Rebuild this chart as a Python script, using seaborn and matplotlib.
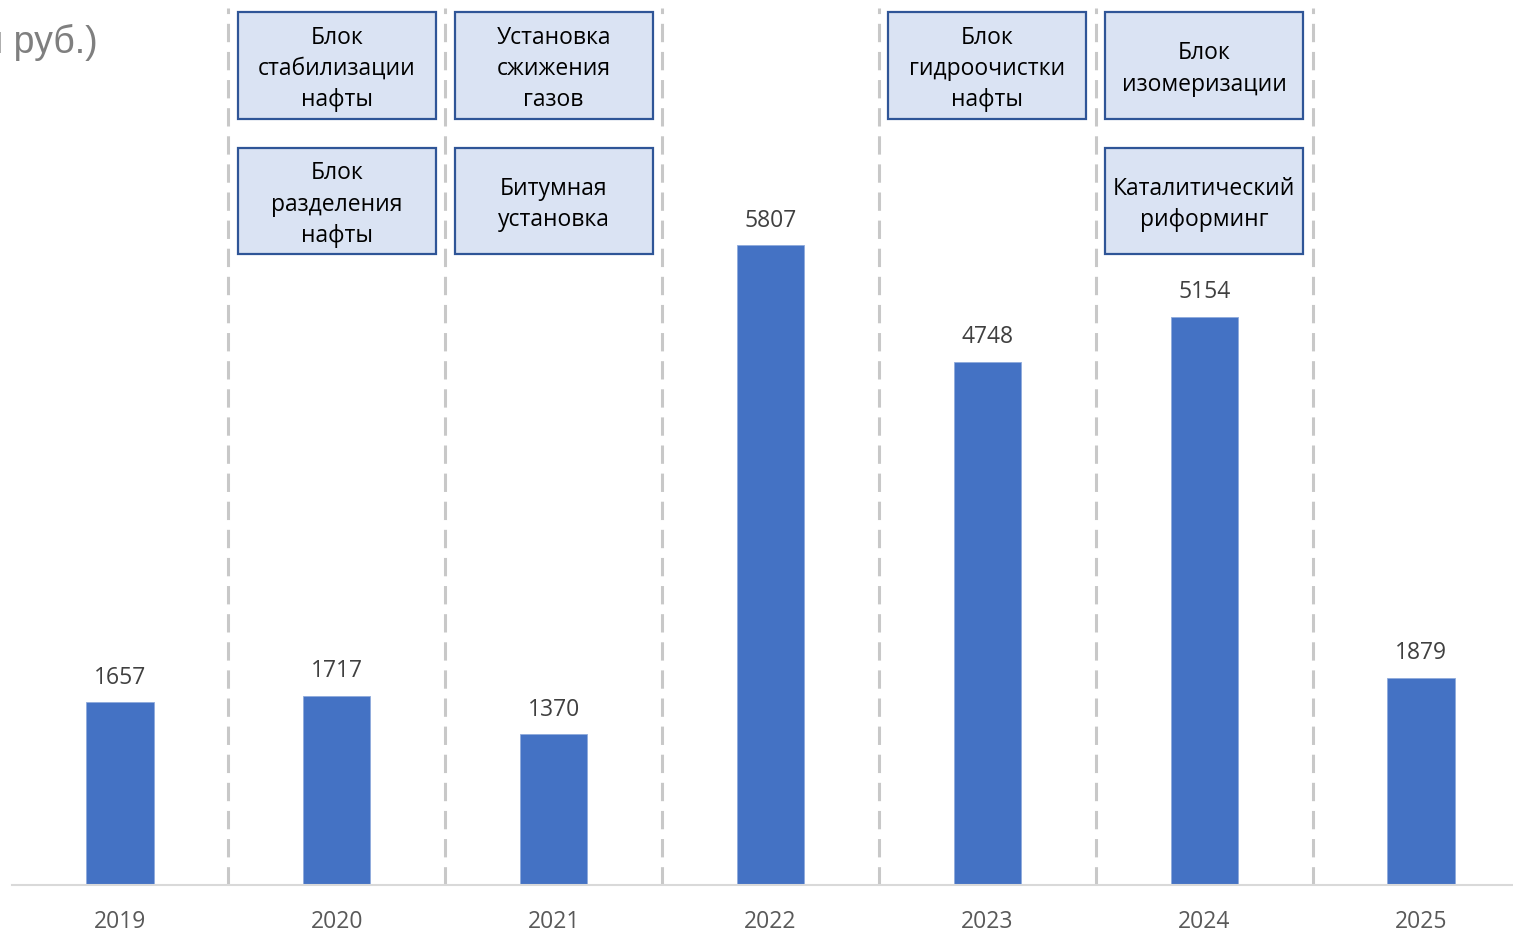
import pandas as pd
import seaborn as sns
import matplotlib.pyplot as plt
from matplotlib.patches import Rectangle
from matplotlib.transforms import blended_transform_factory

# данные
years = ["2019", "2020", "2021", "2022", "2023", "2024", "2025"]
values = [1657, 1717, 1370, 5807, 4748, 5154, 1879]

# подписи-блоки над столбцами: год, ряд (0 - верхний, 1 - нижний), текст
box_years = ["2020", "2020", "2021", "2021", "2023", "2024", "2024"]
box_rows = [0, 1, 0, 1, 0, 0, 1]
box_texts = [
    "Блок\nстабилизации\nнафты",
    "Блок\nразделения\nнафты",
    "Установка\nсжижения\nгазов",
    "Битумная\nустановка",
    "Блок\nгидроочистки\nнафты",
    "Блок\nизомеризации",
    "Каталитический\nриформинг",
]

title = "(млн руб.)"

df = pd.DataFrame({"Год": years, "Значение": values})

sns.set_style("white")
plt.rcParams["font.family"] = ["Open Sans", "DejaVu Sans"]

W, H = 1513, 933
fig = plt.figure(figsize=(W / 100, H / 100), dpi=100)
# ось чуть шире картинки, правый край обрезан как в оригинале
ax = fig.add_axes([11.5 / W, 48 / H, 1518 / W, 885 / H])

sns.barplot(data=df, x="Год", y="Значение", color="#4472C4", width=0.31,
            edgecolor="#8FAADC", linewidth=0.6, saturation=1, ax=ax)

ax.set_xlim(-0.5, len(years) - 0.5)
ax.set_ylim(0, 8030)

# пунктирные разделители между годами
for i in range(len(years) - 1):
    ax.axvline(i + 0.5, ymin=0, ymax=0.991, color="#C8C8C8", lw=2.2,
               linestyle=(0, (6.0, 3.2)), zorder=0)

ax.bar_label(ax.containers[0], labels=[str(v) for v in values], padding=9,
             fontsize=16.5, color="#404040")

# блоки-подписи
tr = blended_transform_factory(ax.transData, ax.transAxes)
row_y = {0: (0.8655, 0.9864), 1: (0.713, 0.8328)}
for yr, row, txt in zip(box_years, box_rows, box_texts):
    xi = years.index(yr)
    y0, y1 = row_y[row]
    ax.add_patch(Rectangle((xi - 0.456, y0), 0.912, y1 - y0, transform=tr,
                           facecolor="#DAE3F3", edgecolor="#2F5597", lw=1.6,
                           zorder=3, clip_on=False))
    ax.text(xi, (y0 + y1) / 2 - 0.004, txt, transform=tr, ha="center",
            va="center", fontsize=16.5, color="black", linespacing=1.4,
            zorder=4)

sns.despine(ax=ax, left=True)
ax.spines["bottom"].set_color("#D9D9D9")
ax.spines["bottom"].set_linewidth(1.5)
ax.set_yticks([])
ax.set_xlabel("")
ax.set_ylabel("")
ax.tick_params(axis="x", length=0, pad=18, labelsize=16.5, labelcolor="#595959")

fig.text(98 / W, 1 - 42 / H, title, ha="right", va="center", fontsize=27,
         color="#7F7F7F", family=["Liberation Sans", "DejaVu Sans"])

fig.savefig("out.png", dpi=100)
